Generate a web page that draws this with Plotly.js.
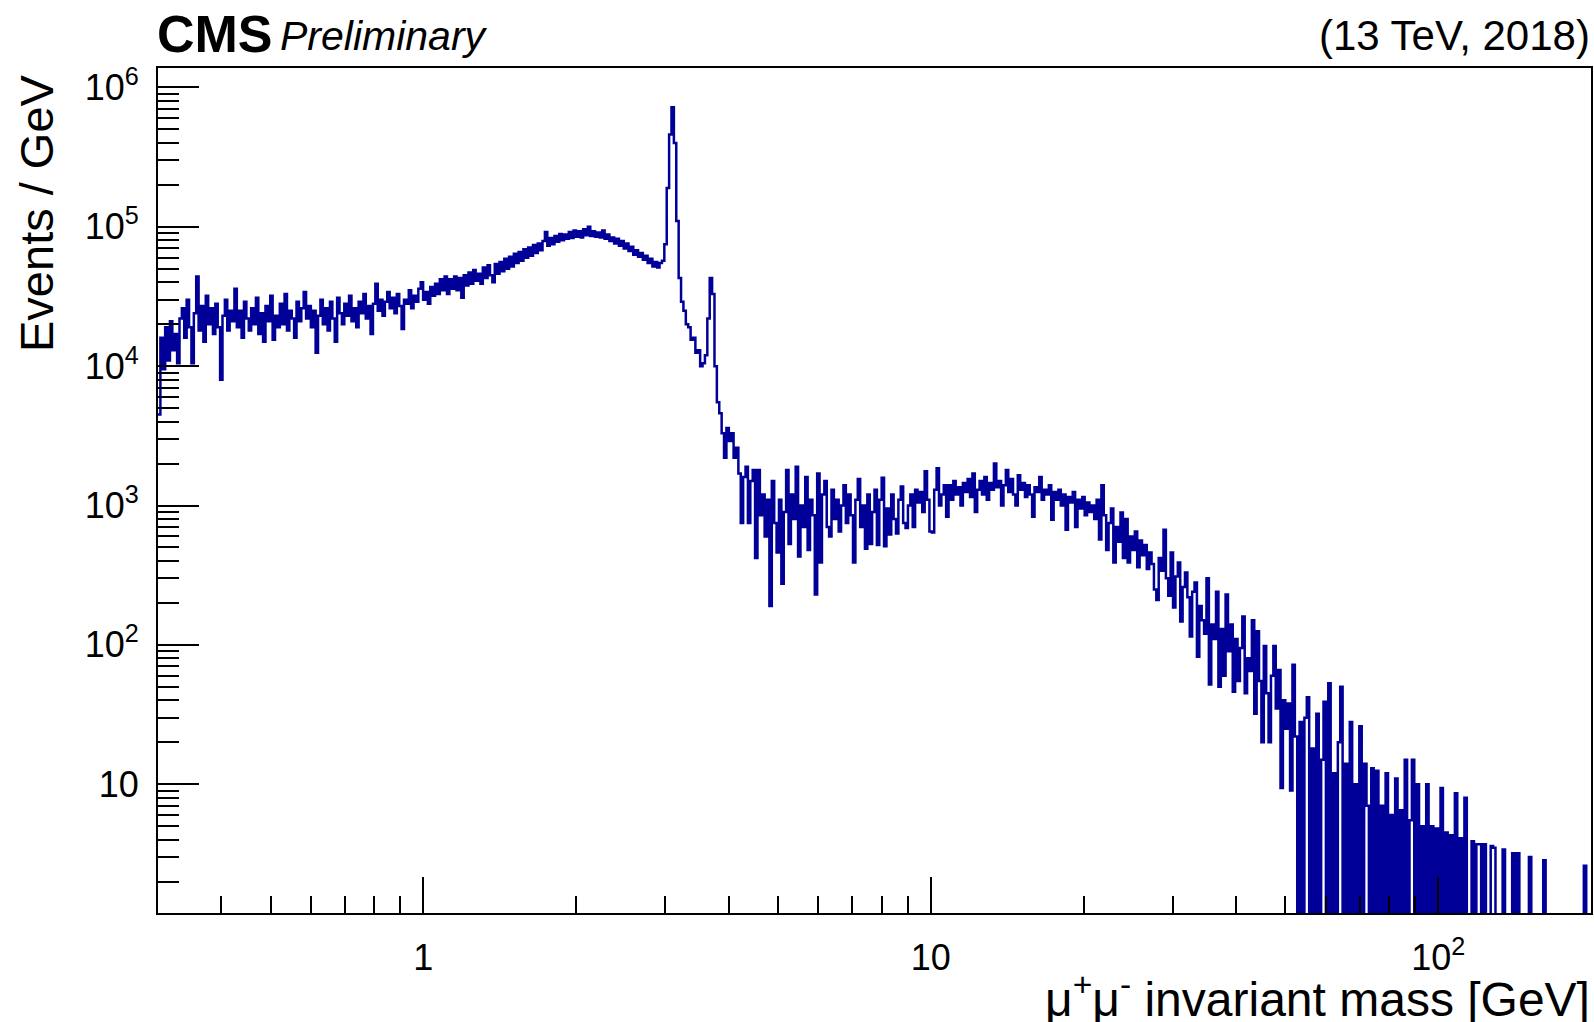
<!DOCTYPE html>
<html>
<head>
<meta charset="utf-8">
<script src="https://cdn.plot.ly/plotly-3.0.1.min.js"></script>
<style>html,body{margin:0;padding:0;background:#fff;}#chart{width:1594px;height:1022px;}</style>
</head>
<body>
<div id="chart"></div>
<script>
// Histogram binning (log-spaced bins, as in the original histogram definition)
const massMin = 0.3;
const massMax = 200;
const nBins = 600;

// Events / GeV per bin
const eventsPerGeV = [
4.5e3,1.6e4,9.5e3,1.9e4,1.1e4,2.1e4,1.3e4,1.7e4,1.05e4,2.2e4,
2.6e4,1.6e4,3.0e4,1.9e4,1.05e4,2.4e4,4.4e4,1.8e4,2.7e4,1.5e4,
3.2e4,2.0e4,2.6e4,1.7e4,2.8e4,1.9e4,8.0e3,2.3e4,3.0e4,1.8e4,
2.5e4,2.1e4,3.6e4,1.9e4,2.5e4,1.6e4,2.9e4,2.2e4,1.8e4,2.6e4,
2.0e4,3.1e4,1.7e4,2.4e4,1.5e4,2.7e4,2.1e4,3.2e4,1.55e4,2.3e4,
1.9e4,2.8e4,2.0e4,3.3e4,1.8e4,2.5e4,2.2e4,1.6e4,2.9e4,2.1e4,
2.6e4,3.4e4,2.2e4,2.7e4,1.9e4,2.5e4,1.25e4,2.3e4,3.0e4,2.0e4,
2.6e4,1.8e4,2.9e4,2.2e4,1.5e4,3.1e4,2.4e4,2.0e4,2.8e4,2.3e4,
3.2e4,2.1e4,2.6e4,1.9e4,2.9e4,2.4e4,3.3e4,2.2e4,2.7e4,1.7e4,
2.8e4,3.9e4,2.5e4,3.0e4,2.3e4,2.9e4,3.4e4,2.6e4,3.1e4,2.4e4,
3.3e4,2.7e4,1.85e4,3.0e4,2.8e4,3.5e4,2.6e4,3.2e4,2.9e4,3.6e4,
4.0e4,3.0e4,3.4e4,2.8e4,3.7e4,3.2e4,3.9e4,3.3e4,4.2e4,3.5e4,
4.4e4,3.3e4,4.2e4,3.6e4,4.4e4,3.5e4,4.3e4,3.1e4,4.5e4,3.8e4,
4.7e4,3.9e4,4.9e4,4.1e4,4.6e4,3.9e4,5.1e4,4.3e4,5.3e4,4.5e4,
4.0e4,5.4e4,4.6e4,5.6e4,4.8e4,5.9e4,5.0e4,6.1e4,5.2e4,6.4e4,
5.5e4,6.6e4,5.7e4,6.9e4,6.0e4,7.1e4,6.2e4,7.4e4,6.5e4,7.6e4,
6.8e4,7.9e4,9.2e4,7.3e4,8.3e4,7.5e4,8.6e4,7.8e4,8.9e4,8.0e4,
8.8e4,8.2e4,9.2e4,8.3e4,9.4e4,8.5e4,9.3e4,8.4e4,9.6e4,8.7e4,
1.0e5,8.6e4,9.3e4,8.5e4,9.1e4,8.4e4,9.4e4,8.2e4,8.8e4,7.9e4,
8.4e4,7.6e4,8.2e4,7.3e4,7.9e4,7.0e4,7.6e4,6.7e4,7.2e4,6.3e4,
6.8e4,6.1e4,6.5e4,5.8e4,6.2e4,5.5e4,5.9e4,5.2e4,5.6e4,5.1e4,
5.5e4,5.7e4,7.5e4,1.9e5,4.6e5,7.2e5,4.0e5,1.1e5,4.3e4,2.9e4,
2.5e4,2.0e4,1.9e4,1.55e4,1.6e4,1.25e4,1.3e4,1.0e4,1.05e4,1.2e4,
2.2e4,4.3e4,3.3e4,1.0e4,5.5e3,4.6e3,3.3e3,2.2e3,3.6e3,2.9e3,
3.3e3,2.2e3,2.6e3,1.7e3,7.5e2,1.6e3,1.9e3,7.5e2,1.5e3,1.8e3,
4.2e2,1.8e3,8.5e2,1.2e3,6.0e2,1.1e3,1.9e2,1.5e3,7.5e2,4.6e2,
1.1e3,2.75e2,9.0e2,1.8e3,5.3e2,1.2e3,8.0e2,1.9e3,4.3e2,1.0e3,
7.0e2,1.6e3,4.8e2,1.1e3,8.5e2,2.3e2,1.7e3,3.9e2,1.2e3,1.5e3,
7.0e2,6.0e2,1.3e3,8.0e2,1.1e3,6.5e2,1.0e3,1.4e3,7.5e2,1.2e3,
8.5e2,3.9e2,1.1e3,1.55e3,7.0e2,1.0e3,4.9e2,1.2e3,5.3e2,9.0e2,
1.3e3,5.2e2,1.1e3,1.58e3,5.1e2,9.5e2,6.2e2,1.2e3,8.0e2,6.3e2,
1.1e3,1.37e3,7.5e2,6.9e2,1.0e3,1.2e3,7.0e2,1.3e3,1.05e3,1.25e3,
9.0e2,1.76e3,1.1e3,6.5e2,6.4e2,1.3e3,1.85e3,1.0e3,1.2e3,1.4e3,
8.3e2,1.4e3,1.1e3,1.5e3,1.2e3,1.35e3,1.0e3,1.45e3,1.25e3,1.55e3,
1.15e3,1.7e3,9.0e2,1.3e3,1.5e3,1.2e3,1.6e3,1.1e3,1.45e3,1.3e3,
2.0e3,1.35e3,1.5e3,1.0e3,1.4e3,1.8e3,1.25e3,1.55e3,1.2e3,1.0e3,
1.65e3,1.3e3,1.45e3,1.15e3,1.4e3,1.2e3,8.3e2,1.35e3,1.25e3,1.6e3,
1.1e3,1.3e3,1.2e3,1.4e3,7.9e2,1.25e3,1.1e3,1.3e3,1.0e3,1.2e3,
6.7e2,1.15e3,1.05e3,1.25e3,7.0e2,1.1e3,9.5e2,1.15e3,8.5e2,1.05e3,
9.0e2,1.0e3,8.0e2,1.1e3,5.7e2,1.4e3,8.5e2,4.8e2,7.5e2,9.5e2,
3.9e2,7.0e2,5.5e2,8.9e2,4.2e2,8.0e2,3.9e2,6.0e2,4.8e2,6.5e2,
3.6e2,5.6e2,4.4e2,5.2e2,3.5e2,4.6e2,3.8e2,2.5e2,2.1e2,4.2e2,
3.4e2,6.7e2,3.0e2,2.25e2,4.6e2,1.85e2,3.1e2,3.9e2,1.47e2,2.6e2,
3.3e2,2.2e2,1.15e2,2.4e2,2.8e2,8.2e1,1.9e2,1.5e2,1.2e2,3.0e2,
5.2e1,1.4e2,1.1e2,2.4e2,5.0e1,1.3e2,6.0e1,2.3e2,9.0e1,1.4e2,
4.6e1,1.1e2,5.5e1,9.5e1,1.6e2,4.5e1,8.0e1,6.5e1,1.5e2,3.2e1,
1.25e2,5.5e1,2.0e1,9.8e1,4.5e1,2.0e1,6.0e1,9.8e1,3.5e1,6.6e1,
9.4,4.0e1,2.5e1,3.8e1,9.0,7.2e1,2.2e1,0,2.8e1,0,
3.0e1,4.2e1,0,1.8e1,0,3.2e1,0,1.5e1,3.9e1,0,
5.3e1,0,1.2e1,0,2.0e1,5.0e1,0,1.4e1,0,2.8e1,
0,1.0e1,0,2.6e1,0,1.4e1,7.0,0,1.3e1,0,
1.25e1,0,7.0,0,1.2e1,0,6.0,0,1.1e1,0,
6.5,0,1.5e1,0,5.5,1.5e1,0,1.0e1,0,5.0,
0,1.0e1,0,5.0,0,4.8,0,9.4,0,4.5,
0,4.3,0,8.6,0,4.1,0,8.0,0,0,
3.9,0,3.7,3.7,0,3.7,0,0,3.6,3.5,
0,0,0,3.4,0,0,0,3.2,0,3.2,
0,0,0,0,3.0,0,0,0,0,0,
2.85,0,0,0,0,0,0,0,0,0,
0,0,0,0,0,0,0,2.6,0,0
];

// Axis ticks and labels
const xTickVals = [1, 10, 100];
const xTickText = ['1', '10', '10<sup>2</sup>'];
const yTickVals = [10, 100, 1000, 10000, 100000, 1000000];
const yTickText = ['10', '10<sup>2</sup>', '10<sup>3</sup>', '10<sup>4</sup>', '10<sup>5</sup>', '10<sup>6</sup>'];
const xRange = [0.3, 200];
const yRange = [1.19, 1.38e6];

// Texts
const cmsLabel = 'CMS';
const prelimLabel = 'Preliminary';
const energyLabel = '(13 TeV, 2018)';
const xTitle = '\u03bc<sup>+</sup>\u03bc<sup>-</sup> invariant mass [GeV]';
const yTitle = 'Events / GeV';

// ---- build step line from bins ----
const ratio = Math.pow(massMax / massMin, 1 / nBins);
const xs = [], ys = [];
const floorVal = 1e-3; // empty bins drop below the frame, as in ROOT
for (let i = 0; i < nBins; i++) {
  xs.push(massMin * Math.pow(ratio, i));
  const v = eventsPerGeV[i];
  ys.push(v > 0 ? v : floorVal);
}
xs.push(massMax);
ys.push(ys[ys.length - 1]);

// minor tick positions
function minorTicks(lo, hi) {
  const out = [];
  for (let e = -2; e <= 7; e++) {
    for (let d = 2; d <= 9; d++) {
      const v = d * Math.pow(10, e);
      if (v > lo * 1.0001 && v < hi * 0.9999) out.push(v);
    }
  }
  return out;
}

const font = 'Liberation Sans, Arial, Helvetica, sans-serif';
const L = 158, R = 3, T = 68, B = 109;
const W = 1594, H = 1022;
const pw = W - L - R, ph = H - T - B;
const px2paperX = p => (p - L) / pw;
const py2paperY = p => (H - B - p) / ph;

const trace = {
  x: xs, y: ys, type: 'scatter', mode: 'lines',
  line: { shape: 'hv', color: '#000099', width: 2.5 },
  hoverinfo: 'skip'
};

const layout = {
  width: W, height: H,
  margin: { l: L, r: R, t: T, b: B, pad: 0 },
  paper_bgcolor: '#ffffff', plot_bgcolor: '#ffffff',
  showlegend: false,
  font: { family: font, color: '#000000' },
  xaxis: {
    type: 'log',
    range: [Math.log10(xRange[0]), Math.log10(xRange[1])],
    tickmode: 'array', tickvals: xTickVals, ticktext: xTickText,
    ticks: 'inside', ticklen: 36, tickwidth: 2, tickcolor: '#000',
    minor: { tickmode: 'array', tickvals: minorTicks(xRange[0], xRange[1]), ticks: 'inside', ticklen: 17, tickwidth: 2, tickcolor: '#000', showgrid: false },
    showline: true, linewidth: 2, linecolor: '#000', mirror: true,
    showgrid: false, zeroline: false,
    tickfont: { family: font, size: 36, color: '#000' },
    ticklabelstandoff: 12
  },
  yaxis: {
    type: 'log',
    range: [Math.log10(yRange[0]), Math.log10(yRange[1])],
    tickmode: 'array', tickvals: yTickVals, ticktext: yTickText,
    ticks: 'inside', ticklen: 41, tickwidth: 2, tickcolor: '#000',
    minor: { tickmode: 'array', tickvals: minorTicks(yRange[0], yRange[1]), ticks: 'inside', ticklen: 21, tickwidth: 2, tickcolor: '#000', showgrid: false },
    showline: true, linewidth: 2, linecolor: '#000', mirror: true,
    showgrid: false, zeroline: false,
    tickfont: { family: font, size: 36, color: '#000' },
    ticklabelstandoff: 10
  },
  annotations: [
    { text: '<b>' + cmsLabel + '</b>', xref: 'paper', yref: 'paper', x: px2paperX(155), y: py2paperY(34),
      xanchor: 'left', yanchor: 'middle', showarrow: false, font: { family: font, size: 52, color: '#000' } },
    { text: '<i>' + prelimLabel + '</i>', xref: 'paper', yref: 'paper', x: px2paperX(278), y: py2paperY(36),
      xanchor: 'left', yanchor: 'middle', showarrow: false, font: { family: font, size: 41, color: '#000' } },
    { text: energyLabel, xref: 'paper', yref: 'paper', x: px2paperX(1592), y: py2paperY(36),
      xanchor: 'right', yanchor: 'middle', showarrow: false, font: { family: font, size: 42, color: '#000' } },
    { text: yTitle, xref: 'paper', yref: 'paper', x: px2paperX(36), y: py2paperY(213),
      xanchor: 'center', yanchor: 'middle', textangle: -90, showarrow: false, font: { family: font, size: 47, color: '#000' } },
    { text: xTitle, xref: 'paper', yref: 'paper', x: px2paperX(1592), y: py2paperY(996),
      xanchor: 'right', yanchor: 'middle', showarrow: false, font: { family: font, size: 48, color: '#000' } }
  ]
};

Plotly.newPlot('chart', [trace], layout, { staticPlot: true, displayModeBar: false });
</script>
</body>
</html>
